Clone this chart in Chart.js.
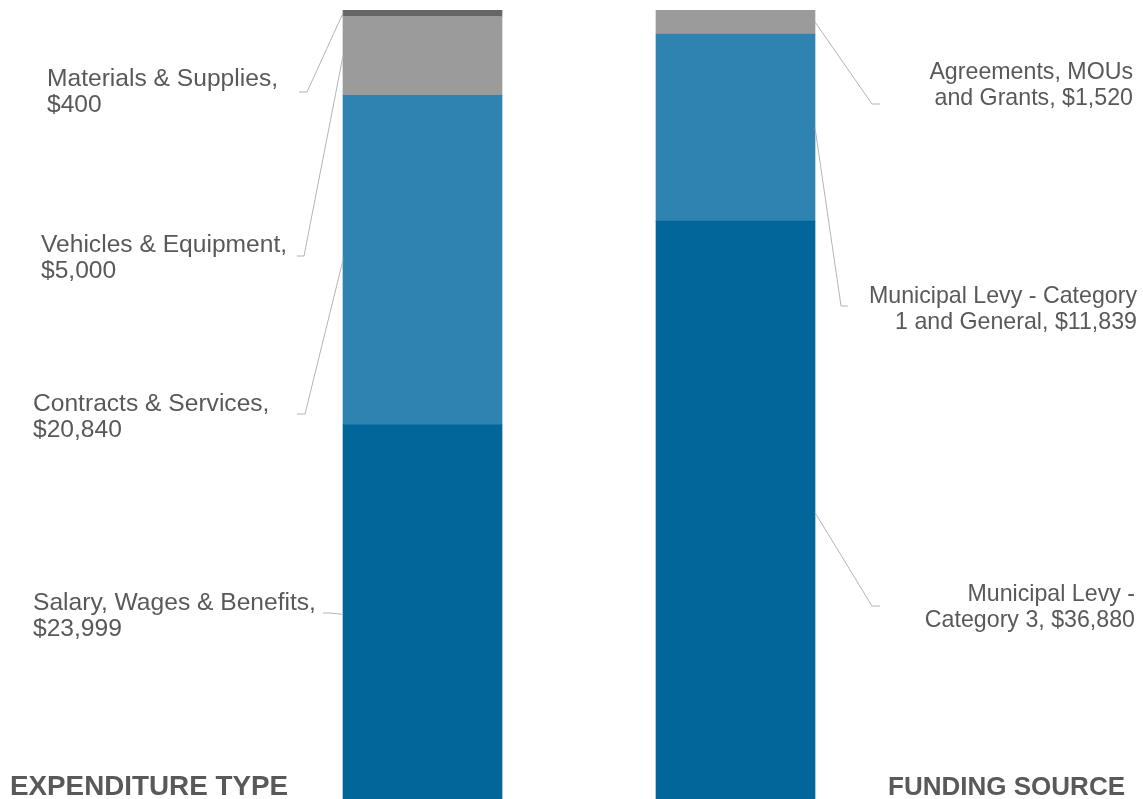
<!DOCTYPE html>
<html>
<head>
<meta charset="utf-8">
<script src="https://cdn.jsdelivr.net/npm/chart.js@4"></script>
<style>
  html, body { margin: 0; padding: 0; background: #fff; }
  #wrap { position: relative; width: 1143px; height: 799px; }
</style>
</head>
<body>
<div id="wrap"><canvas id="budgetChart"></canvas></div>
<script>
// Data

const barLabels = ['EXPENDITURE TYPE', 'FUNDING SOURCE'];

const expenditureNames = ['Salary, Wages & Benefits', 'Contracts & Services', 'Vehicles & Equipment', 'Materials & Supplies'];
const expenditureValues = [23999, 20840, 5000, 400];
const expenditureColors = ['#02669b', '#2f83b1', '#9b9b9b', '#666666'];

const fundingNames = ['Municipal Levy - Category 3', 'Municipal Levy - Category 1 and General', 'Agreements, MOUs and Grants'];
const fundingValues = [36880, 11839, 1520];
const fundingColors = ['#02669b', '#2f83b1', '#9b9b9b'];

// Label placement (elbow of leader line, end of tick, text anchor, words on first line)
const leftLayout = [
  { elbow: [330, 613], end: [323, 613], text: [33, 603], words: 4 },
  { elbow: [305, 414], end: [297, 414], text: [33, 404], words: 3 },
  { elbow: [304, 256], end: [297, 256], text: [41, 245], words: 3 },
  { elbow: [307, 92], end: [299, 92], text: [47, 79], words: 3 },
];
const rightLayout = [
  { elbow: [872, 606], end: [880, 606], text: [1135, 595], words: 3 },
  { elbow: [841, 306], end: [848, 306], text: [1137, 297], words: 4 },
  { elbow: [872, 104], end: [880, 104], text: [1133, 73], words: 2 },
];

// Datasets, one per segment

const datasets = [];
expenditureNames.forEach(function (name, i) {
  datasets.push({
    label: name,
    data: [expenditureValues[i], null],
    backgroundColor: expenditureColors[i],
    side: 'left',
    layout: leftLayout[i],
  });
});
fundingNames.forEach(function (name, i) {
  datasets.push({
    label: name,
    data: [null, fundingValues[i]],
    backgroundColor: fundingColors[i],
    side: 'right',
    layout: rightLayout[i],
  });
});

const labelPlugin = {
  id: 'segmentLabels',
  afterDatasetsDraw(chart) {
    const ctx = chart.ctx;
    ctx.save();
    chart.data.datasets.forEach(function (ds, i) {
      const idx = ds.side == 'left' ? 0 : 1;
      const el = chart.getDatasetMeta(i).data[idx];
      const value = ds.data[idx];
      const lay = ds.layout;
      const midY = (el.y + el.base) / 2;
      const edgeX = ds.side == 'left' ? el.x - el.width / 2 : el.x + el.width / 2;

      // leader line
      ctx.strokeStyle = '#b4b4b4';
      ctx.lineWidth = 1;
      ctx.beginPath();
      ctx.moveTo(edgeX, midY);
      ctx.lineTo(lay.elbow[0], lay.elbow[1]);
      ctx.lineTo(lay.end[0], lay.end[1]);
      ctx.stroke();

      // text
      const words = (ds.label + ', $' + value.toLocaleString('en-US')).split(' ');
      const lines = [words.slice(0, lay.words).join(' '), words.slice(lay.words).join(' ')];
      ctx.fillStyle = '#595959';
      if (ds.side == 'left') {
        ctx.font = '24.6px "Liberation Sans", Arial, sans-serif';
        ctx.textAlign = 'left';
      } else {
        ctx.font = '23.2px "Liberation Sans", Arial, sans-serif';
        ctx.textAlign = 'right';
      }
      ctx.textBaseline = 'middle';
      lines.forEach(function (line, k) {
        ctx.fillText(line, lay.text[0], lay.text[1] + k * 26);
      });
    });

    // bar titles
    ctx.fillStyle = '#595959';
    ctx.textBaseline = 'alphabetic';
    ctx.font = 'bold 27.8px "Liberation Sans", Arial, sans-serif';
    ctx.textAlign = 'left';
    ctx.fillText(barLabels[0], 10, 795);
    ctx.font = 'bold 26px "Liberation Sans", Arial, sans-serif';
    ctx.textAlign = 'right';
    ctx.fillText(barLabels[1], 1125, 795);
    ctx.restore();
  },
};

const config = {
  type: 'bar',
  data: { labels: barLabels, datasets: datasets },
  options: {
    responsive: true,
    maintainAspectRatio: false,
    animation: false,
    barThickness: 159,
    layout: { padding: { top: 10, bottom: 0, left: 266, right: 251 } },
    plugins: {
      legend: { display: false },
      tooltip: { enabled: false },
    },
    scales: {
      x: { stacked: true, display: false },
      y: { stacked: true, display: false, min: 316, max: 50239 },
    },
  },
  plugins: [labelPlugin],
};

chart = new Chart(document.getElementById('budgetChart'), config);
</script>
</body>
</html>
